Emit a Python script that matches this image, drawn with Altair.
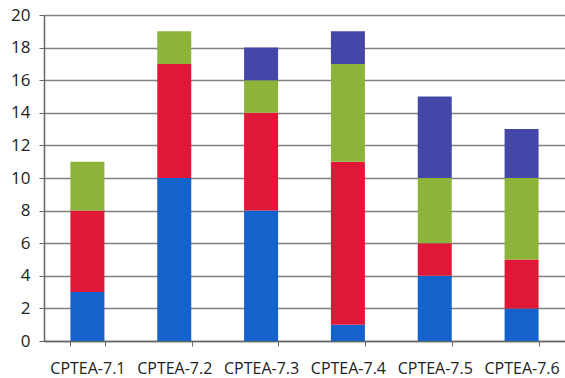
import altair as alt
import pandas as pd

categories = ["CPTEA-7.1", "CPTEA-7.2", "CPTEA-7.3", "CPTEA-7.4", "CPTEA-7.5", "CPTEA-7.6"]
series_names = ["S1", "S2", "S3", "S4"]
s1 = [3, 10, 8, 1, 4, 2]
s2 = [5, 7, 6, 10, 2, 3]
s3 = [3, 2, 2, 6, 4, 5]
s4 = [0, 0, 2, 2, 5, 3]
colors = ["#1463CC", "#E01838", "#8DB43A", "#4446A8"]

rows = []
for k, (name, vals) in enumerate(zip(series_names, [s1, s2, s3, s4])):
    for c, v in zip(categories, vals):
        rows.append({"cat": c, "series": name, "value": v, "ord": k})
df = pd.DataFrame(rows)

chart = alt.Chart(df).mark_bar(size=34).encode(
    x=alt.X("cat:N", sort=categories, title=None,
            scale=alt.Scale(paddingInner=0.6, paddingOuter=0.3),
            axis=alt.Axis(labelAngle=0, labelFont="Open Sans", labelFontSize=16,
                          labelColor="#222", labelPadding=14, ticks=True, tickSize=5,
                          tickColor="#666", domainColor="#666", domainWidth=1.5,
                          tickBand="extent", grid=False)),
    y=alt.Y("value:Q", stack="zero", title=None,
            scale=alt.Scale(domain=[0, 20], nice=False),
            axis=alt.Axis(values=list(range(0, 21, 2)), labelFont="Open Sans",
                          labelFontSize=17, labelColor="#222", labelPadding=9,
                          tickSize=5, tickColor="#666", domainColor="#666",
                          domainWidth=1.5, gridColor="#808080", gridWidth=1.5)),
    color=alt.Color("series:N", scale=alt.Scale(domain=series_names, range=colors), legend=None),
    order=alt.Order("ord:Q"),
).properties(
    width=521, height=326,
    autosize=alt.AutoSizeParams(type="none"),
    padding={"left": 44, "top": 15, "right": 0, "bottom": 37},
).configure_view(stroke=None).configure(background="white")

chart.save("out.html", embed_options={"renderer": "svg", "actions": False})
